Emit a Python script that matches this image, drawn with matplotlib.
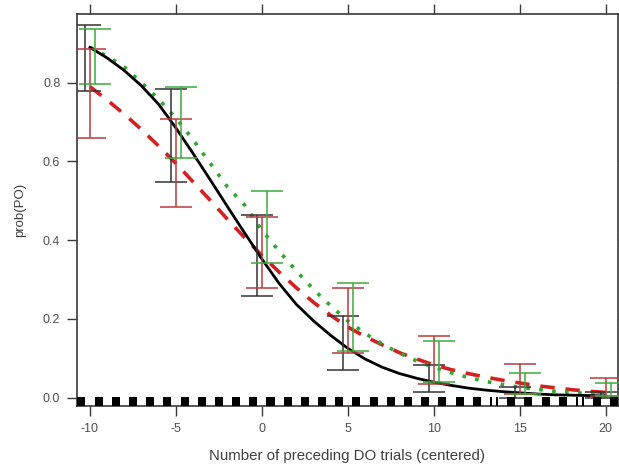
import numpy as np
import matplotlib
matplotlib.use("Agg")
import matplotlib.pyplot as plt

plt.rcParams['font.family'] = ['Liberation Sans', 'DejaVu Sans']

# fitted curves at each integer
curve_x = list(range(-10, 21))
black_fit = [0.890, 0.863, 0.831, 0.792, 0.745, 0.685, 0.620, 0.553, 0.485, 0.418,
             0.352, 0.290, 0.237, 0.195, 0.158, 0.125, 0.098, 0.077, 0.061, 0.049,
             0.039, 0.031, 0.024, 0.019, 0.015, 0.012, 0.009, 0.007, 0.006, 0.005,
             0.004]
red_fit = [0.790, 0.756, 0.720, 0.681, 0.639, 0.595, 0.548, 0.501, 0.453, 0.406,
           0.361, 0.319, 0.279, 0.242, 0.209, 0.179, 0.155, 0.134, 0.114, 0.098,
           0.083, 0.071, 0.061, 0.052, 0.044, 0.037, 0.030, 0.025, 0.020, 0.016,
           0.013]
green_fit = [0.890, 0.868, 0.840, 0.800, 0.758, 0.710, 0.655, 0.595, 0.535, 0.489,
             0.425, 0.372, 0.322, 0.275, 0.233, 0.195, 0.163, 0.136, 0.113, 0.093,
             0.077, 0.063, 0.051, 0.041, 0.033, 0.026, 0.021, 0.016, 0.013, 0.010,
             0.008]

# interval bars
bar_x = [-10, -5, 0, 5, 10, 15, 20]
black_lo = [0.780, 0.547, 0.258, 0.071, 0.015, 0.000, 0.000]
black_hi = [0.947, 0.785, 0.465, 0.208, 0.082, 0.028, 0.015]
red_lo = [0.660, 0.484, 0.278, 0.114, 0.035, 0.010, 0.003]
red_hi = [0.886, 0.709, 0.460, 0.278, 0.157, 0.086, 0.050]
green_lo = [0.797, 0.610, 0.342, 0.119, 0.040, 0.008, 0.005]
green_hi = [0.937, 0.790, 0.524, 0.291, 0.144, 0.063, 0.038]

# rug of observed trial counts
rug_x = [v + 0.5 for v in range(-11, 21) if v + 0.5 not in (13.5, 18.5)]
rug_thin_x = [13.3, 13.65, 18.35, 18.7]

grey = "#3a3a3a"

fig = plt.figure(figsize=(6.19, 4.65), dpi=100)
ax = fig.add_axes([0.1244, 0.1269, 0.8736, 0.8431])

ax.plot(curve_x, black_fit, color="black", lw=2.0, zorder=4)
ax.plot(curve_x, red_fit, color="#d42020", lw=2.6, ls=(0, (4, 3)), zorder=3)
ax.plot(curve_x, green_fit, color="#2ea82e", lw=2.6, ls=(0, (1, 2.6)), zorder=3)

series = [(black_lo, black_hi, "#333333", -0.3),
          (red_lo, red_hi, "#b83a3a", 0.0),
          (green_lo, green_hi, "#3aac3a", 0.3)]
for lo, hi, col, off in series:
    xs = np.array(bar_x) + off
    mid = (np.array(lo) + np.array(hi)) / 2
    err = [mid - np.array(lo), np.array(hi) - mid]
    ax.errorbar(xs, mid, yerr=err, fmt="none", ecolor=col, elinewidth=1.1,
                capsize=11.5, capthick=1.1, zorder=5)

ax.set_xlim(-10.756, 20.70)
ax.set_ylim(-0.0215, 0.975)

ax.bar(rug_x, 0.0235, bottom=-0.0215, width=0.47, color="black", zorder=6)
ax.bar(rug_thin_x, 0.0235, bottom=-0.0215, width=0.12, color="black", zorder=6)

ax.set_xticks([-10, -5, 0, 5, 10, 15, 20])
ax.set_xticklabels(["-10", "-5", "0", "5", "10", "15", "20"])
ax.set_yticks([0.0, 0.2, 0.4, 0.6, 0.8])
ax.set_yticklabels(["0.0", "0.2", "0.4", "0.6", "0.8"])
ax.tick_params(axis="both", direction="out", length=7, width=1, color=grey,
               labelcolor="#505050", labelsize=9, top=True, right=True)
ax.tick_params(axis="x", pad=5)
ax.tick_params(axis="y", pad=5)
for s in ax.spines.values():
    s.set_color(grey)
    s.set_linewidth(1.2)

ax.set_xlabel("Number of preceding DO trials (centered)", color="#404040",
              fontsize=10.8, labelpad=10)
ax.set_ylabel("prob(PO)", color="#404040", fontsize=9.5, labelpad=12)

fig.savefig("out.png", dpi=100)
